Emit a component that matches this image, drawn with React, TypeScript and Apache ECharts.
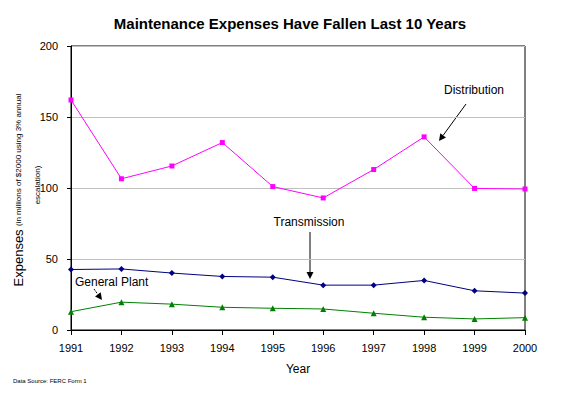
import React, { useEffect, useRef } from "react";
import * as echarts from "echarts";

const years = ["1991", "1992", "1993", "1994", "1995", "1996", "1997", "1998", "1999", "2000"];
const distribution = [162, 106.5, 115.5, 132, 101, 93, 113, 136, 99.7, 99.3];
const transmission = [42.6, 43, 40.1, 37.7, 37.2, 31.6, 31.6, 34.9, 27.6, 26];
const generalPlant = [12.9, 19.6, 18.2, 16, 15.3, 14.8, 11.8, 9, 7.8, 8.7];

const FONT = "'Liberation Sans', Arial, sans-serif";

function arrow(x1: number, y1: number, x2: number, y2: number, dashed = false) {
  const ang = Math.atan2(y2 - y1, x2 - x1);
  const len = 7;
  const w = 3.5;
  const bx = x2 - len * Math.cos(ang);
  const by = y2 - len * Math.sin(ang);
  const px = -Math.sin(ang) * w;
  const py = Math.cos(ang) * w;
  return [
    {
      type: "line",
      shape: { x1, y1, x2: bx, y2: by },
      style: { stroke: "#000", lineWidth: 1, lineDash: dashed ? [2, 1] : null },
      silent: true,
    },
    {
      type: "polygon",
      shape: { points: [[x2, y2], [bx + px, by + py], [bx - px, by - py]] },
      style: { fill: "#000" },
      silent: true,
    },
  ];
}

export default function App() {
  const ref = useRef<HTMLDivElement>(null);
  useEffect(() => {
    if (!ref.current) return;
    const chart = echarts.init(ref.current, null, { renderer: "svg" });
    chart.setOption({
      animation: false,
      backgroundColor: "#fff",
      textStyle: { fontFamily: FONT },
      title: {
        text: "Maintenance Expenses Have Fallen Last 10 Years",
        left: 285,
        top: 11,
        textAlign: "center",
        textStyle: { fontSize: 15, fontWeight: "bold", color: "#000", fontFamily: FONT },
      },
      grid: {
        left: 71,
        right: 47,
        top: 46,
        bottom: 63,
        show: true,
        borderColor: "#000",
        borderWidth: 1,
        backgroundColor: "transparent",
      },
      xAxis: {
        type: "category",
        data: years,
        boundaryGap: false,
        name: "Year",
        nameLocation: "middle",
        nameGap: 33,
        nameTextStyle: { fontSize: 12, color: "#000", fontFamily: FONT },
        axisLine: { lineStyle: { color: "#000", width: 1 } },
        axisTick: { show: true, length: 5, lineStyle: { color: "#000" } },
        axisLabel: { color: "#000", fontSize: 11, margin: 12, fontFamily: FONT },
        splitLine: { show: false },
      },
      yAxis: {
        type: "value",
        min: 0,
        max: 200,
        interval: 50,
        axisLine: { show: true, lineStyle: { color: "#000", width: 1 } },
        axisTick: { show: true, length: 4, lineStyle: { color: "#000" } },
        axisLabel: { color: "#000", fontSize: 11, margin: 13, fontFamily: FONT },
        splitLine: { show: true, lineStyle: { color: "#C0C0C0", width: 1 } },
      },
      series: [
        {
          name: "Distribution",
          type: "line",
          data: distribution,
          symbol: "rect",
          symbolSize: 5,
          lineStyle: { color: "#FF00FF", width: 1 },
          itemStyle: { color: "#FF00FF" },
          z: 3,
        },
        {
          name: "Transmission",
          type: "line",
          data: transmission,
          symbol: "diamond",
          symbolSize: 6,
          lineStyle: { color: "#000080", width: 1 },
          itemStyle: { color: "#000080" },
          z: 3,
        },
        {
          name: "General Plant",
          type: "line",
          data: generalPlant,
          symbol: "triangle",
          symbolSize: 6,
          lineStyle: { color: "#008000", width: 1 },
          itemStyle: { color: "#008000" },
          z: 3,
        },
      ],
      graphic: [
        {
          type: "text",
          x: 18,
          y: 190,
          rotation: Math.PI / 2,
          style: {
            text: "{big|Expenses} {small|(in millions of $2000 using 3% annual}",
            align: "center",
            verticalAlign: "middle",
            rich: {
              big: { fontSize: 13, fontFamily: FONT, fill: "#000" },
              small: { fontSize: 8, fontFamily: FONT, fill: "#000" },
            },
          },
          silent: true,
        },
        {
          type: "text",
          x: 37,
          y: 185,
          rotation: Math.PI / 2,
          style: {
            text: "escalation)",
            align: "center",
            verticalAlign: "middle",
            fontSize: 8,
            fontFamily: FONT,
            fill: "#000",
          },
          silent: true,
        },
        {
          type: "text",
          x: 474,
          y: 90,
          style: { text: "Distribution", align: "center", verticalAlign: "middle", fontSize: 12, fontFamily: FONT, fill: "#000" },
          silent: true,
        },
        {
          type: "text",
          x: 309,
          y: 222,
          style: { text: "Transmission", align: "center", verticalAlign: "middle", fontSize: 12, fontFamily: FONT, fill: "#000" },
          silent: true,
        },
        {
          type: "text",
          x: 75,
          y: 282,
          style: { text: "General Plant", align: "left", verticalAlign: "middle", fontSize: 12, fontFamily: FONT, fill: "#000" },
          silent: true,
        },
        ...arrow(466, 104, 439, 141),
        ...arrow(310, 232, 310, 279),
        ...arrow(94, 289, 102, 300, true),
        {
          type: "text",
          x: 13,
          y: 381,
          style: { text: "Data Source: FERC Form 1", align: "left", verticalAlign: "middle", fontSize: 6, fontFamily: FONT, fill: "#000" },
          silent: true,
        },
      ],
    });
    return () => chart.dispose();
  }, []);
  return <div ref={ref} style={{ width: 572, height: 393, position: "absolute", left: 0, top: 0 }} />;
}
